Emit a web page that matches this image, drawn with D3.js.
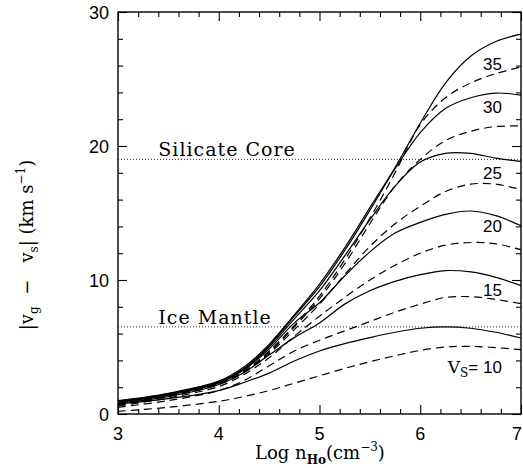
<!DOCTYPE html>
<html><head><meta charset="utf-8">
<script src="https://cdn.jsdelivr.net/npm/d3@7"></script>
<style>body{margin:0;background:#fff}svg{display:block}</style>
</head><body>
<svg id="c" width="523" height="468"></svg>
<script>
// ---- data ----
const logN = [3, 3.5, 4, 4.25, 4.5, 4.75, 5, 5.25, 5.5, 5.75, 6, 6.25, 6.5, 6.75, 7];
const shockSpeeds = [10, 15, 20, 25, 30, 35];
// solid curves
const solid10 = [0.75, 1.15, 1.75, 2.35, 3.05, 3.95, 4.7, 5.25, 5.7, 6.1, 6.4, 6.5, 6.4, 6.1, 5.67];
const solid15 = [0.82, 1.3, 2.2, 3.1, 4.4, 5.7, 6.8, 8.2, 9.2, 9.9, 10.4, 10.7, 10.6, 10.2, 9.58];
const solid20 = [0.88, 1.4, 2.3, 3.3, 4.85, 6.8, 8.3, 10.3, 12.1, 13.5, 14.3, 14.9, 15.15, 14.8, 14.05];
const solid25 = [0.92, 1.45, 2.35, 3.35, 5.0, 7.1, 9.2, 11.8, 14.5, 17.0, 18.8, 19.45, 19.45, 19.1, 18.85];
const solid30 = [0.95, 1.5, 2.4, 3.4, 5.1, 7.3, 9.5, 12.2, 15.2, 18.3, 21.0, 22.8, 23.6, 23.95, 23.8];
const solid35 = [1.0, 1.55, 2.45, 3.5, 5.2, 7.4, 9.7, 12.4, 15.4, 18.4, 21.7, 24.7, 26.7, 27.8, 28.35];
// dashed curves
const dashed10 = [0.2, 0.5, 0.95, 1.3, 1.75, 2.3, 2.85, 3.4, 3.9, 4.35, 4.75, 5.0, 5.05, 4.95, 4.8];
const dashed15 = [0.5, 1.0, 1.75, 2.5, 3.6, 4.7, 5.5, 6.2, 6.9, 7.6, 8.2, 8.7, 8.75, 8.55, 8.23];
const dashed20 = [0.6, 1.2, 2.05, 2.95, 4.2, 5.8, 7.3, 8.7, 10.0, 11.1, 12.0, 12.6, 12.8, 12.7, 12.26];
const dashed25 = [0.65, 1.3, 2.2, 3.1, 4.5, 6.3, 8.2, 10.4, 12.5, 14.2, 15.5, 16.6, 17.15, 17.15, 16.75];
const dashed30 = [0.7, 1.35, 2.25, 3.15, 4.6, 6.5, 8.6, 11.2, 14.2, 17.0, 19.0, 20.4, 21.1, 21.45, 21.5];
const dashed35 = [0.75, 1.4, 2.3, 3.2, 4.7, 6.6, 8.8, 11.5, 14.6, 18.0, 21.6, 23.6, 24.7, 25.4, 25.9];

const xTickValues = [3, 4, 5, 6, 7];
const yTickValues = [0, 10, 20, 30];
const thresholdNames = ["Silicate Core", "Ice Mantle"];
const thresholdValues = [19.0, 6.5];
const curveLabelTexts = ["35", "30", "25", "20", "15"];
// label anchor positions in data coordinates (layout, not data)
const curveLabelPos = [[6.81, 25.7], [6.81, 22.5], [6.81, 17.55], [6.81, 13.6], [6.81, 8.83]];

// ---- layout ----
const svg = d3.select("#c");
const L = 118, R = 521, T = 12, B = 414;
const x = d3.scaleLinear().domain([3, 7]).range([L, R]);
const y = d3.scaleLinear().domain([0, 30]).range([B, T]);
const serif = "'DejaVu Serif', 'Liberation Serif', serif";
const sans = "'Liberation Sans', Arial, sans-serif";

const solidSets = [solid10, solid15, solid20, solid25, solid30, solid35];
const dashedSets = [dashed10, dashed15, dashed20, dashed25, dashed30, dashed35];

const line = d3.line().x((d, i) => x(logN[i])).y(d => y(d)).curve(d3.curveCatmullRom.alpha(0.5));

const g = svg.append("g");
g.append("defs").append("clipPath").attr("id", "clip")
  .append("rect").attr("x", L).attr("y", T).attr("width", R - L).attr("height", B - T);

const plot = g.append("g").attr("clip-path", "url(#clip)");

// threshold lines
plot.selectAll("line.thr").data(thresholdValues).join("line")
  .attr("x1", L).attr("x2", R).attr("y1", d => y(d)).attr("y2", d => y(d))
  .attr("stroke", "#333").attr("stroke-width", 1).attr("stroke-dasharray", "1,2");

plot.selectAll("path.solid").data(solidSets).join("path")
  .attr("d", line).attr("fill", "none").attr("stroke", "#000").attr("stroke-width", 1.2);
plot.selectAll("path.dashed").data(dashedSets).join("path")
  .attr("d", line).attr("fill", "none").attr("stroke", "#000").attr("stroke-width", 1.2)
  .attr("stroke-dasharray", "8,5");

// axes with inward ticks on all sides
const xMinor = d3.range(3, 7.001, 0.2).filter(v => Math.abs(v - Math.round(v)) > 1e-6);
const yMinor = d3.range(0, 30.001, 2).filter(v => v % 10 !== 0);

const axB = d3.axisBottom(x).tickValues(xTickValues).tickSize(-9).tickFormat("");
const axT = d3.axisTop(x).tickValues(xTickValues).tickSize(-9).tickFormat("");
const axL = d3.axisLeft(y).tickValues(yTickValues).tickSize(-9).tickFormat("");
const axR = d3.axisRight(y).tickValues(yTickValues).tickSize(-9).tickFormat("");
const axBm = d3.axisBottom(x).tickValues(xMinor).tickSize(-5).tickFormat("");
const axTm = d3.axisTop(x).tickValues(xMinor).tickSize(-5).tickFormat("");
const axLm = d3.axisLeft(y).tickValues(yMinor).tickSize(-5).tickFormat("");
const axRm = d3.axisRight(y).tickValues(yMinor).tickSize(-5).tickFormat("");

[[axB, `translate(0,${B})`], [axBm, `translate(0,${B})`], [axT, `translate(0,${T})`], [axTm, `translate(0,${T})`],
 [axL, `translate(${L},0)`], [axLm, `translate(${L},0)`], [axR, `translate(${R},0)`], [axRm, `translate(${R},0)`]]
 .forEach(([a, t]) => {
   const s = g.append("g").attr("transform", t).call(a);
   s.select(".domain").remove();
   s.selectAll("line").attr("stroke", "#000").attr("stroke-width", 1.1);
 });

g.append("rect").attr("x", L).attr("y", T).attr("width", R - L).attr("height", B - T)
  .attr("fill", "none").attr("stroke", "#000").attr("stroke-width", 1.4);

// tick labels (the last x label sits at the window edge as in the reference)
g.selectAll("text.xt").data(xTickValues).join("text")
  .attr("x", d => Math.min(x(d), 517)).attr("y", 440).attr("text-anchor", "middle")
  .attr("font-family", sans).attr("font-size", 18).text(d => d);
g.selectAll("text.yt").data(yTickValues).join("text")
  .attr("x", 109).attr("y", d => y(d) + 6.5).attr("text-anchor", "end")
  .attr("font-family", sans).attr("font-size", 18).text(d => d);

// threshold labels
g.selectAll("text.thr").data(thresholdNames).join("text")
  .attr("x", x(3.4)).attr("y", (d, i) => y(thresholdValues[i]) - 3)
  .attr("font-family", serif).attr("font-size", 19).attr("letter-spacing", 1).text(d => d);

// curve labels
g.selectAll("text.cl").data(curveLabelTexts).join("text")
  .attr("x", (d, i) => x(curveLabelPos[i][0])).attr("y", (d, i) => y(curveLabelPos[i][1]))
  .attr("text-anchor", "end").attr("font-family", sans).attr("font-size", 17).text(d => d);

// V_S = 10 label
const vs = g.append("text").attr("x", x(6.81)).attr("y", y(3.09)).attr("text-anchor", "end")
  .attr("font-family", serif).attr("font-size", 17);
vs.append("tspan").text("V");
vs.append("tspan").attr("font-size", 12).attr("dy", 4).text("S");
vs.append("tspan").attr("dy", -4).attr("font-family", sans).text("= " + shockSpeeds[0]);

// x axis title
const xt = g.append("text").attr("x", 255).attr("y", 459).attr("font-family", serif).attr("font-size", 18);
xt.append("tspan").text("Log  n");
xt.append("tspan").attr("font-size", 12).attr("font-weight", "bold").attr("dy", 5).text("Ho");
xt.append("tspan").attr("dy", -5).text("(cm");
xt.append("tspan").attr("font-size", 12).attr("dy", -8).text("−3");
xt.append("tspan").attr("dy", 8).text(")");

// y axis title
const yt = g.append("text").attr("transform", "translate(33,245) rotate(-90)").attr("text-anchor", "middle")
  .attr("font-family", serif).attr("font-size", 18);
yt.append("tspan").text("|v");
yt.append("tspan").attr("font-size", 12).attr("dy", 5).text("g");
yt.append("tspan").attr("dy", -5).attr("xml:space", "preserve").text("  −   v");
yt.append("tspan").attr("font-size", 12).attr("dy", 5).text("s");
yt.append("tspan").attr("dy", -5).text("| (km s");
yt.append("tspan").attr("font-size", 12).attr("dy", -8).text("−1");
yt.append("tspan").attr("dy", 8).text(")");
</script>
</body></html>
